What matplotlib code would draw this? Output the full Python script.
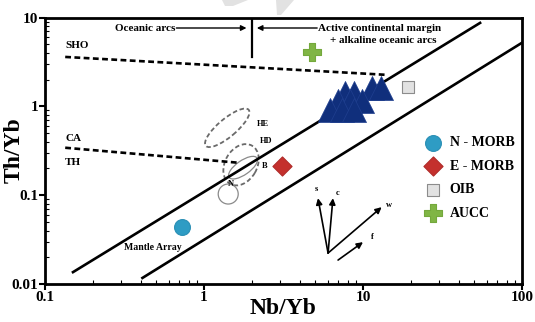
"""
Th/Yb vs Nb/Yb discrimination diagram (Pearce-type) with sample data
and reference compositions (N-MORB, E-MORB, OIB, AUCC).
"""

import matplotlib
matplotlib.use("Agg")
import matplotlib.pyplot as plt
import matplotlib.transforms as mtransforms
from matplotlib.patches import Ellipse, Polygon
from matplotlib.ticker import FixedLocator, FixedFormatter, LogLocator, NullFormatter

plt.rcParams['font.family'] = ['Liberation Serif', 'DejaVu Serif']
plt.rcParams['font.weight'] = 'bold'

# Sample analyses (Nb/Yb, Th/Yb)
sample_nb_yb = [11.4, 13.0, 7.7, 8.8, 7.0, 8.3, 9.9, 6.2, 7.4, 8.8]
sample_th_yb = [1.61, 1.61, 1.42, 1.42, 1.15, 1.15, 1.15, 0.91, 0.91, 0.91]

# Reference compositions
ref_names = ['N - MORB', 'E - MORB', 'OIB', 'AUCC']
ref_nb_yb = [0.73, 3.1, 19.2, 4.8]
ref_th_yb = [0.044, 0.214, 1.66, 4.1]

# Mantle array boundaries and arc division lines (x, y end points)
array_upper_x = [0.15, 54.5]
array_upper_y = [0.0136, 8.7]
array_lower_x = [0.41, 100.0]
array_lower_y = [0.0117, 5.2]
sho_x = [0.134, 14.2]
sho_y = [3.6, 2.26]
ca_th_x = [0.134, 1.64]
ca_th_y = [0.342, 0.232]
arc_divide_x = [2.0, 2.0]
arc_divide_y = [10.0, 3.6]

# Field outlines: centre (x, y), size in pixels, angle
fields = {
    'HE': ((1.40, 0.573), 56, 18, 40, 'dashed'),
    'HD': ((1.71, 0.220), 44, 32, 60, 'dashed'),
    'B': ((1.76, 0.204), 34, 14, 35, 'solid'),
    'N': ((1.42, 0.103), 20, 20, 0, 'solid'),
}

# Enrichment vectors (start, end)
vec_names = ['s', 'c', 'w', 'f']
vec_start = [(6.03, 0.0223), (6.03, 0.0223), (6.03, 0.0223), (6.97, 0.0186)]
vec_end = [(5.21, 0.0925), (6.47, 0.0925), (13.1, 0.0733), (10.0, 0.0296)]

fig = plt.figure(figsize=(5.35, 3.22), dpi=100)
ax = fig.add_axes([0.0841, 0.118, 0.8916, 0.8276])
ax.set_xscale('log')
ax.set_yscale('log')
ax.set_xlim(0.1, 100)
ax.set_ylim(0.01, 10)

# faint marks at the top edge
for pts in ([(222, 0), (248, 0), (233, 6), (225, 6)],
            [(276, 0), (294, 0), (281, 15), (277, 15)]):
    fig.patches.append(Polygon([(x / 535, 1 - y / 322) for x, y in pts],
                               closed=True, transform=fig.transFigure,
                               facecolor='#e2e2e2', edgecolor='none', zorder=0))

# Lines
ax.plot(array_upper_x, array_upper_y, color='black', lw=1.9)
ax.plot(array_lower_x, array_lower_y, color='black', lw=1.9)
ax.plot(arc_divide_x, arc_divide_y, color='black', lw=1.6)
ax.plot(sho_x, sho_y, color='black', lw=1.9, dashes=(2.2, 1.3))
ax.plot(ca_th_x, ca_th_y, color='black', lw=1.9, dashes=(2.2, 1.3))

# Field ellipses drawn in screen units around a data centre
for name, (centre, w, h, ang, style) in fields.items():
    trans = fig.dpi_scale_trans + mtransforms.ScaledTranslation(
        centre[0], centre[1], ax.transData)
    if style == 'dashed':
        e = Ellipse((0, 0), w / 100, h / 100, angle=ang, transform=trans,
                    fill=False, edgecolor='#6a6a6a', lw=1.3, ls=(0, (2.5, 1.5)))
    else:
        e = Ellipse((0, 0), w / 100, h / 100, angle=ang, transform=trans,
                    fill=False, edgecolor='#8a8a8a', lw=0.9)
    ax.add_patch(e)

# Samples
ax.scatter(sample_nb_yb, sample_th_yb, marker='^', s=300, color='#102f7c',
           edgecolor='#1f3f8f', linewidth=0.5, zorder=4)

# Reference compositions
ref_style = [
    dict(marker='o', s=130, color='#2e9cc4', edgecolor='#2a8fb5'),
    dict(marker='D', s=95, color='#c4302d', edgecolor='#b02a28'),
    dict(marker='s', s=80, color='#e2e2e2', edgecolor='#8c8c8c'),
    dict(marker='P', s=150, color='#80b545', edgecolor='#74a83c'),
]
handles = []
for name, x, y, st in zip(ref_names, ref_nb_yb, ref_th_yb, ref_style):
    handles.append(ax.scatter([x], [y], label=name, linewidth=0.8, zorder=5, **st))

leg = ax.legend(handles=handles, loc='upper left', bbox_to_anchor=(0.77, 0.58),
                frameon=False, fontsize=10, labelspacing=0.75, handletextpad=0.2,
                scatterpoints=1, borderpad=0)

# Vectors
for name, (x0, y0), (x1, y1) in zip(vec_names, vec_start, vec_end):
    ax.annotate('', xy=(x1, y1), xytext=(x0, y0),
                arrowprops=dict(arrowstyle='-|>', color='black', lw=1.2,
                                mutation_scale=9, shrinkA=0, shrinkB=0))
ax.text(5.1, 0.105, 's', fontsize=6, ha='center', va='bottom')
ax.text(6.9, 0.095, 'c', fontsize=6, ha='center', va='bottom')
ax.text(13.9, 0.077, 'w', fontsize=6, ha='left', va='center')
ax.text(11.3, 0.034, 'f', fontsize=6, ha='left', va='center')

# Region labels
ax.text(0.134, 4.8, 'SHO', fontsize=8, ha='left', va='center')
ax.text(0.134, 0.43, 'CA', fontsize=8, ha='left', va='center')
ax.text(0.134, 0.232, 'TH', fontsize=8, ha='left', va='center')
ax.text(2.15, 0.64, 'HE', fontsize=6, ha='left', va='center')
ax.text(2.25, 0.41, 'HD', fontsize=6, ha='left', va='center')
ax.text(2.3, 0.215, 'B', fontsize=6, ha='left', va='center')
ax.text(1.47, 0.135, 'N', fontsize=6, ha='center', va='center')
ax.text(0.48, 0.026, 'Mantle Array', fontsize=7, ha='center', va='center')

ax.text(0.66, 7.62, 'Oceanic arcs', fontsize=8, ha='right', va='center')
ax.annotate('', xy=(1.85, 7.62), xytext=(0.67, 7.62),
            arrowprops=dict(arrowstyle='-|>', color='black', lw=1.0,
                            mutation_scale=8, shrinkA=0, shrinkB=0))
ax.annotate('', xy=(2.15, 7.62), xytext=(5.15, 7.62),
            arrowprops=dict(arrowstyle='-|>', color='black', lw=1.0,
                            mutation_scale=8, shrinkA=0, shrinkB=0))
ax.text(5.2, 7.62, 'Active continental margin', fontsize=8, ha='left', va='center')
ax.text(13.4, 5.45, '+ alkaline oceanic arcs', fontsize=8, ha='center', va='center')

# Axes styling
for side in ['left', 'bottom', 'top', 'right']:
    ax.spines[side].set_linewidth(2.0)
ax.xaxis.set_major_locator(FixedLocator([0.1, 1, 10, 100]))
ax.xaxis.set_major_formatter(FixedFormatter(['0.1', '1', '10', '100']))
ax.yaxis.set_major_locator(FixedLocator([0.01, 0.1, 1, 10]))
ax.yaxis.set_major_formatter(FixedFormatter(['0.01', '0.1', '1', '10']))
for axis in (ax.xaxis, ax.yaxis):
    axis.set_minor_locator(LogLocator(base=10, subs=range(2, 10)))
    axis.set_minor_formatter(NullFormatter())
ax.tick_params(which='major', direction='out', length=4, width=1.5,
               labelsize=11, pad=1)
ax.tick_params(which='minor', direction='in', length=3, width=0.8)

fig.text(283 / 535, 1 - 309 / 322, 'Nb/Yb', fontsize=17, ha='center', va='center')
fig.text(14 / 535, 1 - 150 / 322, 'Th/Yb', fontsize=17, ha='center', va='center',
         rotation=90)

fig.savefig('out.png', dpi=100)
